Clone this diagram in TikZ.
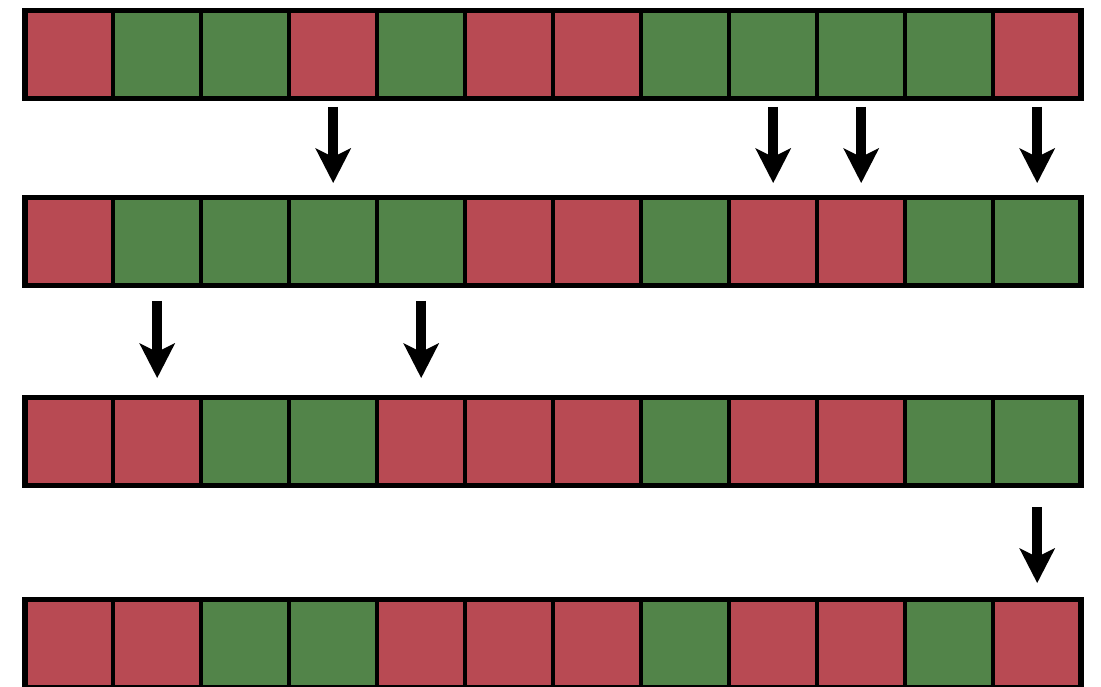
\documentclass[tikz,border=0pt]{standalone}
\usetikzlibrary{arrows.meta}
\definecolor{cred}{RGB}{184,74,83}
\definecolor{cgreen}{RGB}{82,132,73}
\tikzset{
  cell/.style={draw=black, line width=4.5pt, minimum width=88pt, minimum height=88pt,
    inner sep=0pt, outer sep=0pt, anchor=center},
  R/.style={cell, fill=cred},
  G/.style={cell, fill=cgreen},
  rowframe/.style={draw=black, line width=5.5pt},
  arr/.style={line width=9.5pt, -{Stealth[length=35pt,width=36pt,inset=9pt,line width=0pt]}}
}
\begin{document}
\begin{tikzpicture}[x=1pt,y=-1pt]
\useasboundingbox (0,0) rectangle (1101,687);
\def\rowA{R,G,G,R,G,R,R,G,G,G,G,R}
\def\rowB{R,G,G,G,G,R,R,G,R,R,G,G}
\def\rowC{R,R,G,G,R,R,R,G,R,R,G,G}
\def\rowD{R,R,G,G,R,R,R,G,R,R,G,R}
\foreach \c [count=\i] in \rowA {\node[\c] (a\i) at ({25.2+88*(\i-0.5)},54.5) {};}
\foreach \c [count=\i] in \rowB {\node[\c] (b\i) at ({25.2+88*(\i-0.5)},241.5) {};}
\foreach \c [count=\i] in \rowC {\node[\c] (c\i) at ({25.2+88*(\i-0.5)},441.5) {};}
\foreach \c [count=\i] in \rowD {\node[\c] (d\i) at ({25.2+88*(\i-0.5)},643.5) {};}
\foreach \r in {a,b,c,d} {\draw[rowframe] (\r1.north west) rectangle (\r12.south east);}
\foreach \i in {4,9,10,12} {\draw[arr, shorten <=8.5pt, shorten >=14.5pt] (a\i.south) -- (b\i.north);}
\foreach \i in {2,5} {\draw[arr, shorten <=15.5pt, shorten >=19.5pt] (b\i.south) -- (c\i.north);}
\draw[arr, shorten <=21.5pt, shorten >=16.5pt] (c12.south) -- (d12.north);
\end{tikzpicture}
\end{document}
